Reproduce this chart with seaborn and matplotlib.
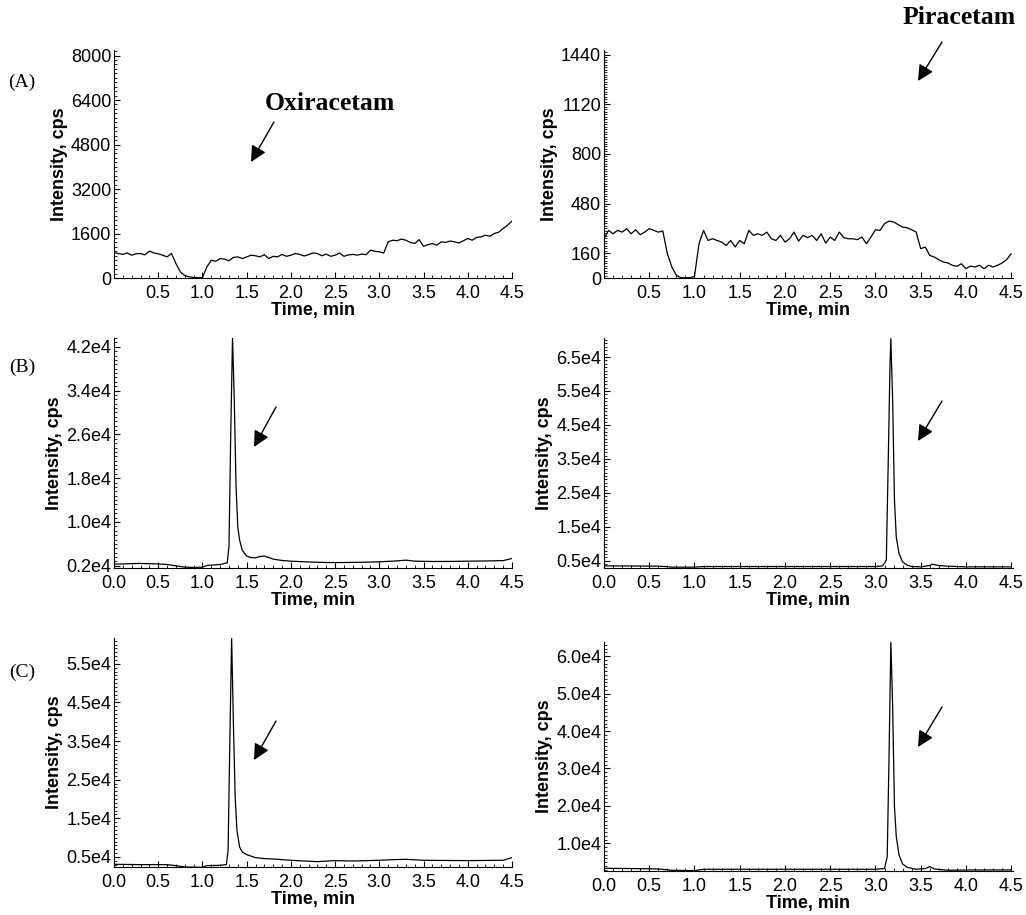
import numpy as np
import pandas as pd
import matplotlib
matplotlib.use("Agg")
import matplotlib.pyplot as plt
import seaborn as sns
from matplotlib.ticker import AutoMinorLocator, FixedLocator

sns.set_style("ticks")
plt.rcParams['font.family'] = ['Liberation Sans', 'DejaVu Sans']
for key in ['text.color', 'axes.labelcolor', 'xtick.color', 'ytick.color', 'axes.edgecolor']:
    plt.rcParams[key] = 'black'

# ---- data (time in min, intensity in cps) ----
# (A) blank plasma, regular scan every 0.05 min
time_a = np.linspace(0, 4.5, 91)
blank_oxi = [910, 880, 850, 900, 820, 870, 880, 830, 970, 900,
             870, 820, 760, 880, 520, 220, 90, 40, 20, 15,
             10, 400, 640, 600, 700, 680, 620, 740, 760, 700,
             760, 820, 800, 760, 840, 700, 780, 760, 850, 780,
             820, 880, 850, 790, 840, 900, 880, 800, 860, 780,
             820, 900, 780, 830, 850, 820, 860, 840, 1000, 960,
             940, 900, 1300, 1360, 1340, 1400, 1360, 1280, 1240, 1380,
             1140, 1200, 1240, 1180, 1300, 1280, 1330, 1300, 1260, 1340,
             1420, 1360, 1460, 1480, 1540, 1500, 1600, 1650, 1780, 1900,
             2050]
blank_pir = [253, 307, 285, 307, 296, 318, 285, 311, 279, 296,
             318, 307, 296, 303, 157, 71, 17, 2, 2, 2,
             11, 221, 307, 242, 253, 242, 232, 210, 242, 200,
             242, 221, 307, 275, 285, 275, 296, 253, 242, 275,
             232, 253, 296, 238, 275, 260, 275, 242, 285, 225,
             264, 242, 296, 260, 253, 253, 247, 264, 221, 264,
             311, 307, 350, 367, 361, 345, 328, 324, 311, 296,
             189, 200, 146, 135, 118, 103, 97, 82, 75, 92,
             60, 77, 71, 82, 60, 82, 71, 82, 97, 118,
             157]

# (B) spiked plasma
time_b_oxi = [0.0, 0.1, 0.2, 0.3, 0.4, 0.5, 0.6, 0.7, 0.8, 0.9,
              1.0, 1.05, 1.1, 1.2, 1.28, 1.30, 1.32, 1.34, 1.36, 1.38,
              1.40, 1.42, 1.45, 1.5, 1.55, 1.6, 1.65, 1.7, 1.75, 1.8,
              1.9, 2.0, 2.2, 2.4, 2.6, 2.8, 3.0, 3.2, 3.3, 3.4,
              3.6, 3.8, 4.0, 4.2, 4.4, 4.5]
spiked_oxi = [2300, 2350, 2400, 2430, 2380, 2350, 2240, 2000, 1760, 1700,
              1760, 2060, 2120, 2240, 2550, 5500, 26200, 43600, 32300, 16400,
              9100, 6700, 4860, 3770, 3500, 3460, 3700, 3770, 3500, 3220,
              2970, 2850, 2700, 2600, 2600, 2650, 2730, 2900, 3030, 2850,
              2790, 2800, 2850, 2880, 2950, 3340]
time_b_pir = [0.0, 0.3, 0.6, 0.7, 0.75, 1.0, 1.1, 1.5, 2.0, 2.5,
              3.0, 3.08, 3.12, 3.14, 3.16, 3.17, 3.19, 3.21, 3.23, 3.26,
              3.30, 3.35, 3.4, 3.5, 3.6, 3.63, 3.7, 3.8, 4.0, 4.5]
spiked_pir = [3530, 3500, 3430, 3300, 3140, 3140, 3330, 3330, 3330, 3330,
              3330, 3530, 5200, 32600, 62000, 70400, 52200, 22800, 12000, 7150,
              4700, 3730, 3330, 3240, 3630, 4020, 3630, 3430, 3240, 3240]

# (C) subject sample
time_c_oxi = [0.0, 0.3, 0.6, 0.7, 0.8, 1.0, 1.05, 1.2, 1.27, 1.29,
              1.31, 1.33, 1.35, 1.37, 1.39, 1.42, 1.45, 1.5, 1.6, 1.7,
              1.8, 1.9, 2.0, 2.15, 2.3, 2.5, 2.7, 3.0, 3.15, 3.3,
              3.5, 3.7, 4.0, 4.2, 4.4, 4.5]
sample_oxi = [3100, 3010, 3010, 2750, 2400, 2320, 2750, 2840, 3010, 6730,
              35300, 61700, 39600, 20600, 11900, 7600, 6300, 5600, 4830, 4570,
              4480, 4300, 4140, 3950, 3790, 4050, 3950, 4140, 4300, 4390,
              4140, 4100, 4050, 4100, 4140, 4830]
time_c_pir = [0.0, 0.3, 0.6, 0.75, 1.0, 1.1, 1.5, 2.0, 2.5, 3.0,
              3.1, 3.13, 3.15, 3.17, 3.19, 3.21, 3.23, 3.26, 3.3, 3.35,
              3.45, 3.55, 3.6, 3.65, 3.8, 4.0, 4.5]
sample_pir = [3330, 3250, 3150, 2790, 2700, 3060, 3060, 3060, 3060, 3060,
              3240, 6440, 33100, 63700, 46500, 19800, 11800, 6900, 4480, 3590,
              3060, 3240, 3770, 3150, 2790, 2880, 2880]

# y ticks of each panel
yt_a_oxi = [0, 1600, 3200, 4800, 6400, 8000]
yt_a_pir = [0, 160, 480, 800, 1120, 1440]
yt_b_oxi = [2000, 10000, 18000, 26000, 34000, 42000]
yt_b_pir = [5000, 15000, 25000, 35000, 45000, 55000, 65000]
yt_c_oxi = [5000, 15000, 25000, 35000, 45000, 55000]
yt_c_pir = [10000, 20000, 30000, 40000, 50000, 60000]
xt_a = [0.5, 1.0, 1.5, 2.0, 2.5, 3.0, 3.5, 4.0, 4.5]
xt_bc = [0.0, 0.5, 1.0, 1.5, 2.0, 2.5, 3.0, 3.5, 4.0, 4.5]

W, H = 1026, 915


def box(left, top, right, bottom):
    return [left / W, 1 - bottom / H, (right - left) / W, (bottom - top) / H]


def fig_pt(x, y):
    return (x / W, 1 - y / H)


# (time, values, yticks, sci labels, ylim, xlim, xticks, axes box px)
panels = [
    (time_a, blank_oxi, yt_a_oxi, False, (0, 8200), (0, 4.5), xt_a, (114, 50, 512, 278)),
    (time_a, blank_pir, yt_a_pir, False, (0, 1470), (0, 4.52), xt_a, (604, 50, 1013, 278)),
    (time_b_oxi, spiked_oxi, yt_b_oxi, True, (1600, 43600), (0, 4.5), xt_bc, (114, 338, 512, 568)),
    (time_b_pir, spiked_pir, yt_b_pir, True, (2900, 70600), (0, 4.52), xt_bc, (604, 338, 1013, 568)),
    (time_c_oxi, sample_oxi, yt_c_oxi, True, (2400, 61700), (0, 4.5), xt_bc, (114, 638, 512, 867)),
    (time_c_pir, sample_pir, yt_c_pir, True, (2600, 63800), (0, 4.52), xt_bc, (604, 642, 1013, 871)),
]

fig = plt.figure(figsize=(W / 100, H / 100), dpi=100)

for t, vals, yt, sci, ylim, xlim, xt, bx in panels:
    ax = fig.add_axes(box(*bx))
    df = pd.DataFrame({"time": t, "intensity": vals})
    sns.lineplot(data=df, x="time", y="intensity", ax=ax, color="black",
                 linewidth=0.9, estimator=None, sort=False)
    ax.set_xlim(*xlim)
    ax.set_ylim(*ylim)
    ax.xaxis.set_major_locator(FixedLocator(xt))
    ax.set_xticklabels([f"{v:.1f}" for v in xt])
    ax.yaxis.set_major_locator(FixedLocator(yt))
    if sci:
        ax.set_yticklabels([f"{v / 1e4:.1f}e4" for v in yt])
    else:
        ax.set_yticklabels([str(v) for v in yt])
    ax.xaxis.set_minor_locator(AutoMinorLocator(5))
    ax.yaxis.set_minor_locator(AutoMinorLocator(10))
    ax.tick_params(which="major", direction="in", length=4, width=0.8,
                   labelsize=13, pad=2)
    ax.tick_params(which="minor", direction="in", length=2, width=0.6)
    ax.tick_params(axis="x", pad=5)
    ax.set_xlabel("Time, min", fontsize=13, fontweight="bold", labelpad=0)
    ax.set_ylabel("Intensity, cps", fontsize=13, fontweight="bold", labelpad=2)
    sns.despine(ax=ax)
    for s in ax.spines.values():
        s.set_linewidth(0.8)

serif = ['Liberation Serif', 'DejaVu Serif']
for lab, y in [("(A)", 82), ("(B)", 367), ("(C)", 672)]:
    fig.text(*fig_pt(22, y), lab, family=serif, fontsize=14, ha="center", va="center")

fig.text(*fig_pt(330, 103), "Oxiracetam", family=serif, fontsize=18.5,
         fontweight="bold", ha="center", va="center")
fig.text(*fig_pt(959, 18), "Piracetam", family=serif, fontsize=18.5,
         fontweight="bold", ha="center", va="center")

arrows = [((274, 122), (251, 162)), ((942, 42), (918, 81)),
          ((276, 407), (254, 447)), ((942, 401), (918, 441)),
          ((276, 721), (254, 760)), ((942, 707), (918, 747))]
for tail, tip in arrows:
    fig.add_artist(matplotlib.patches.FancyArrowPatch(
        fig_pt(*tail), fig_pt(*tip), transform=fig.transFigure,
        arrowstyle="-|>", mutation_scale=24, lw=1.0, color="black",
        shrinkA=0, shrinkB=0))

fig.savefig("out.png", dpi=100)
